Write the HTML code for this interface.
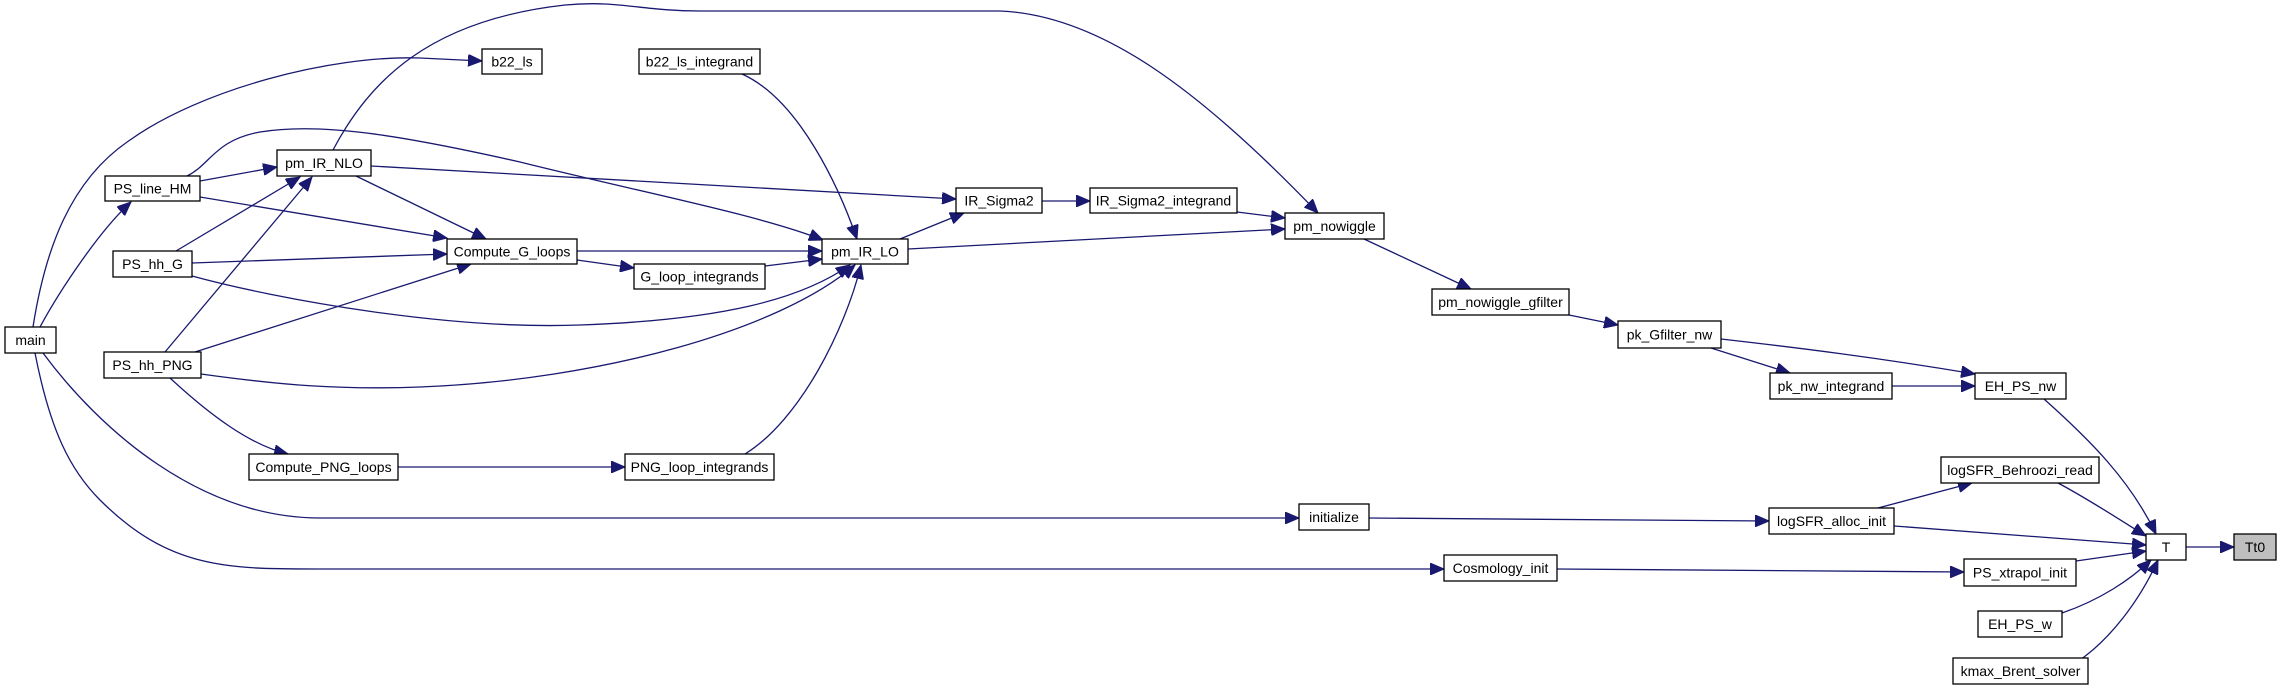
<!DOCTYPE html>
<html><head><meta charset="utf-8"><style>
html,body{margin:0;padding:0;background:#fff;}
svg{display:block;}
text{font-family:"Liberation Sans",Arial,sans-serif;font-size:14px;fill:#000;text-anchor:middle;dominant-baseline:central;}
rect{fill:#fff;stroke:#000;stroke-width:1.3;}
path{fill:none;stroke:#191970;stroke-width:1.3;}
</style></head><body>
<svg width="2277" height="689" viewBox="0 0 2277 689" xmlns="http://www.w3.org/2000/svg">
<defs><marker id="a" markerUnits="userSpaceOnUse" markerWidth="16" markerHeight="12" refX="14" refY="6" orient="auto"><path d="M0,0 L14,6 L0,12 Z" style="fill:#191970;stroke:#191970;stroke-width:1"/></marker></defs>
<g marker-end="url(#a)">
<path d="M40,327 C60,290 100,230 131,202"/>
<path d="M33,327 C45,250 70,180 130,140 C200,90 330,55 420,58 L482,61"/>
<path d="M43,353 C100,430 200,518 320,518 L1299,518"/>
<path d="M35,353 C50,430 70,470 100,500 C170,570 230,569 321,569 L1444,569"/>
<path d="M200,181 L277,167"/>
<path d="M200,197 L447,238"/>
<path d="M187,176 C210,165 215,140 260,132 C320,122 400,135 520,162 C640,192 760,215 823,240"/>
<path d="M176,251 L300,177"/>
<path d="M192,263 L447,254"/>
<path d="M192,276 C280,300 450,330 580,325 C720,320 800,300 850,265"/>
<path d="M165,352 L312,177"/>
<path d="M195,352 L471,264"/>
<path d="M201,374 C280,385 340,390 420,387 C600,380 780,330 855,265"/>
<path d="M170,378 C210,415 250,445 288,454"/>
<path d="M398,467 L625,467"/>
<path d="M745,454 C800,420 845,330 861,265"/>
<path d="M742,74 C800,100 840,190 857,239"/>
<path d="M356,176 L486,239"/>
<path d="M371,166 L956,199"/>
<path d="M333,150 C370,80 430,20 565,5 C620,0 640,11 700,11 L1000,11 C1100,15 1200,90 1318,213"/>
<path d="M577,251 L822,251"/>
<path d="M577,260 L634,268"/>
<path d="M765,266 L822,259"/>
<path d="M900,239 L964,213"/>
<path d="M908,249 L1285,229"/>
<path d="M1042,201 L1090,201"/>
<path d="M1237,212 L1285,218"/>
<path d="M1364,239 L1471,289"/>
<path d="M1569,315 L1618,325"/>
<path d="M1711,348 L1790,373"/>
<path d="M1721,339 C1800,348 1880,358 1975,374"/>
<path d="M1892,386 L1975,386"/>
<path d="M2044,399 C2090,440 2130,480 2156,534"/>
<path d="M2058,483 C2090,500 2120,520 2146,536"/>
<path d="M1894,526 L2146,545"/>
<path d="M1878,508 L1972,483"/>
<path d="M1369,518 L1769,521"/>
<path d="M1557,569 L1964,572"/>
<path d="M2076,561 L2146,551"/>
<path d="M2062,613 C2100,600 2130,580 2151,560"/>
<path d="M2077,662 C2110,640 2140,600 2158,560"/>
<path d="M2186,547 L2234,547"/>
</g>
<rect x="5" y="327" width="51" height="26"/><text x="30.5" y="340">main</text>
<rect x="105" y="176" width="95" height="25"/><text x="152.5" y="188.5">PS_line_HM</text>
<rect x="277" y="150" width="94" height="26"/><text x="324" y="163">pm_IR_NLO</text>
<rect x="482" y="49" width="60" height="25"/><text x="512" y="61.5">b22_ls</text>
<rect x="639" y="49" width="121" height="25"/><text x="699.5" y="61.5">b22_ls_integrand</text>
<rect x="113" y="251" width="79" height="26"/><text x="152.5" y="264">PS_hh_G</text>
<rect x="447" y="239" width="130" height="25"/><text x="512" y="251.5">Compute_G_loops</text>
<rect x="634" y="264" width="131" height="25"/><text x="699.5" y="276.5">G_loop_integrands</text>
<rect x="822" y="239" width="86" height="25"/><text x="865" y="251.5">pm_IR_LO</text>
<rect x="104" y="352" width="97" height="26"/><text x="152.5" y="365">PS_hh_PNG</text>
<rect x="249" y="454" width="149" height="26"/><text x="323.5" y="467">Compute_PNG_loops</text>
<rect x="625" y="454" width="149" height="26"/><text x="699.5" y="467">PNG_loop_integrands</text>
<rect x="956" y="188" width="86" height="25"/><text x="999" y="200.5">IR_Sigma2</text>
<rect x="1090" y="188" width="147" height="25"/><text x="1163.5" y="200.5">IR_Sigma2_integrand</text>
<rect x="1285" y="213" width="99" height="26"/><text x="1334.5" y="226">pm_nowiggle</text>
<rect x="1432" y="289" width="137" height="26"/><text x="1500.5" y="302">pm_nowiggle_gfilter</text>
<rect x="1299" y="504" width="70" height="26"/><text x="1334" y="517">initialize</text>
<rect x="1444" y="555" width="113" height="26"/><text x="1500.5" y="568">Cosmology_init</text>
<rect x="1618" y="321" width="103" height="27"/><text x="1669.5" y="334.5">pk_Gfilter_nw</text>
<rect x="1770" y="373" width="122" height="26"/><text x="1831" y="386">pk_nw_integrand</text>
<rect x="1975" y="373" width="91" height="26"/><text x="2020.5" y="386">EH_PS_nw</text>
<rect x="1941" y="457" width="158" height="26"/><text x="2020" y="470">logSFR_Behroozi_read</text>
<rect x="1769" y="508" width="125" height="26"/><text x="1831.5" y="521">logSFR_alloc_init</text>
<rect x="2146" y="534" width="40" height="26"/><text x="2166" y="547">T</text>
<rect x="2234" y="534" width="42" height="26" style="fill:#bfbfbf"/><text x="2255" y="547">Tt0</text>
<rect x="1964" y="559" width="112" height="27"/><text x="2020" y="572.5">PS_xtrapol_init</text>
<rect x="1978" y="611" width="84" height="26"/><text x="2020" y="624">EH_PS_w</text>
<rect x="1953" y="658" width="135" height="26"/><text x="2020.5" y="671">kmax_Brent_solver</text>
</svg>
</body></html>
